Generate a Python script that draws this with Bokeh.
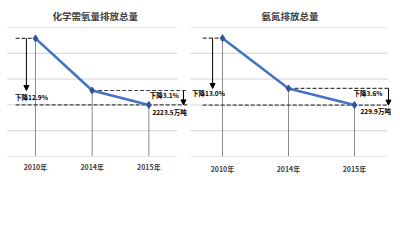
from bokeh.plotting import figure
from bokeh.layouts import row
from bokeh.models import Range1d, FixedTicker, Arrow, NormalHead, Title
from bokeh.core.properties import value
from bokeh.embed import file_html
from bokeh.resources import INLINE
import numpy as np

years = ["2010年", "2014年", "2015年"]
cod_values = [2551.7, 2294.6, 2223.5]
nh_values = [264.4, 238.5, 229.9]
cod_title = "化学需氧量排放总量"
nh_title = "氨氮排放总量"
cod_drop_total = "下降12.9%"
cod_drop_last = "下降3.1%"
cod_last_label = "2223.5万吨"
nh_drop_total = "下降13.0%"
nh_drop_last = "下降3.6%"
nh_last_label = "229.9万吨"

FONT = "Noto Sans CJK SC"
LINE_C = "#4472C4"
MARK_C = "#2F5597"
DASH_C = "#404040"


def make_chart(vals, title, drop_total, drop_last, last_label, cfg):
    xs = list(range(len(years)))
    p = figure(width=cfg["w"], height=242, output_backend="svg", toolbar_location=None,
               x_range=Range1d(*cfg["xr"]), y_range=Range1d(*cfg["yr"]),
               min_border_left=0, min_border_right=0,
               min_border_top=cfg["top"], min_border_bottom=242 - cfg["bottom"])
    p.title = Title(text=title, text_font=FONT, text_font_size="9.5px", text_font_style="bold",
                    text_color="#404040", align="left", offset=cfg["title_off"], standoff=cfg["title_standoff"])
    p.outline_line_color = None
    p.background_fill_color = "white"
    p.border_fill_color = "white"
    p.xgrid.grid_line_color = None
    p.ygrid.grid_line_color = None
    p.yaxis.visible = False
    p.xaxis.ticker = FixedTicker(ticks=xs)
    p.xaxis.major_label_overrides = {i: y for i, y in zip(xs, years)}
    p.xaxis.axis_line_color = None
    p.xaxis.major_tick_line_color = None
    p.xaxis.minor_tick_line_color = None
    p.xaxis.major_tick_out = 0
    p.xaxis.major_tick_in = 0
    p.xaxis.major_label_standoff = cfg["label_standoff"]
    p.xaxis.major_label_text_font = FONT
    p.xaxis.major_label_text_font_size = "7px"
    p.xaxis.major_label_text_font_style = "bold"
    p.xaxis.major_label_text_color = "#404040"

    y0, y1 = cfg["yr"]
    grid_vals = np.linspace(y0, y1, 6)
    p.segment(x0=[-0.5] * 6, x1=[len(years) - 0.5] * 6, y0=grid_vals, y1=grid_vals,
              line_color="#D4D4D4", line_width=1)
    # vertical drop lines
    p.segment(x0=xs, x1=xs, y0=vals, y1=[y0] * len(xs), line_color="#8C8C8C", line_width=1)

    # dashed reference lines
    dl, dr = cfg["dash_left"], cfg["dash_right"]
    p.segment(x0=[dl, xs[1], dl], x1=[xs[0], dr, dr], y0=[vals[0], vals[1], vals[2]],
              y1=[vals[0], vals[1], vals[2]], line_color=DASH_C, line_width=1.2, line_dash="4 2")

    p.line(xs, vals, line_color=LINE_C, line_width=2.6)
    p.scatter(xs, vals, marker="diamond", size=7, fill_color=MARK_C, line_color=MARK_C)

    # arrows
    p.add_layout(Arrow(end=NormalHead(size=5, fill_color="black", line_color="black"),
                       x_start=cfg["arrow_left"], x_end=cfg["arrow_left"], y_start=vals[0], y_end=vals[1],
                       line_color="black", line_width=1))
    p.add_layout(Arrow(end=NormalHead(size=5, fill_color="black", line_color="black"),
                       x_start=cfg["arrow_right"], x_end=cfg["arrow_right"], y_start=vals[1], y_end=vals[2],
                       line_color="black", line_width=1))

    tkw = dict(text_font=value(FONT), text_font_size="6.5px", text_font_style="bold",
               text_color="black", text_baseline="middle")
    p.text(x=[xs[0]], y=[vals[2]], text=[drop_total], text_align="center",
           x_offset=cfg["t1"][0], y_offset=cfg["t1"][1], **tkw)
    p.text(x=[xs[2]], y=[vals[2]], text=[drop_last], text_align="right",
           x_offset=cfg["t2"][0], y_offset=cfg["t2"][1], **tkw)
    p.text(x=[xs[2]], y=[vals[2]], text=[last_label], text_align="left",
           x_offset=cfg["t3"][0], y_offset=cfg["t3"][1], **tkw)
    return p


left_cfg = dict(w=190, xr=(-0.617, 2.734), yr=(1968.7, 2605.6), top=26, bottom=156,
                title_off=52, title_standoff=9, label_standoff=5,
                dash_left=-0.35, dash_right=2.68, arrow_left=-0.16, arrow_right=2.61,
                t1=(-4, -8), t2=(30, -10), t3=(3.5, 7))
right_cfg = dict(w=210, xr=(-0.485, 2.697), yr=(203.4, 269.9), top=27, bottom=160,
                 title_off=71, title_standoff=10, label_standoff=7,
                 dash_left=-0.3, dash_right=2.52, arrow_left=-0.15, arrow_right=2.515,
                 t1=(-14, -12), t2=(28, -12), t3=(6, 6))

p1 = make_chart(cod_values, cod_title, cod_drop_total, cod_drop_last, cod_last_label, left_cfg)
p2 = make_chart(nh_values, nh_title, nh_drop_total, nh_drop_last, nh_last_label, right_cfg)

layout = row(p1, p2)
open("out.html", "w").write(file_html(layout, INLINE))
